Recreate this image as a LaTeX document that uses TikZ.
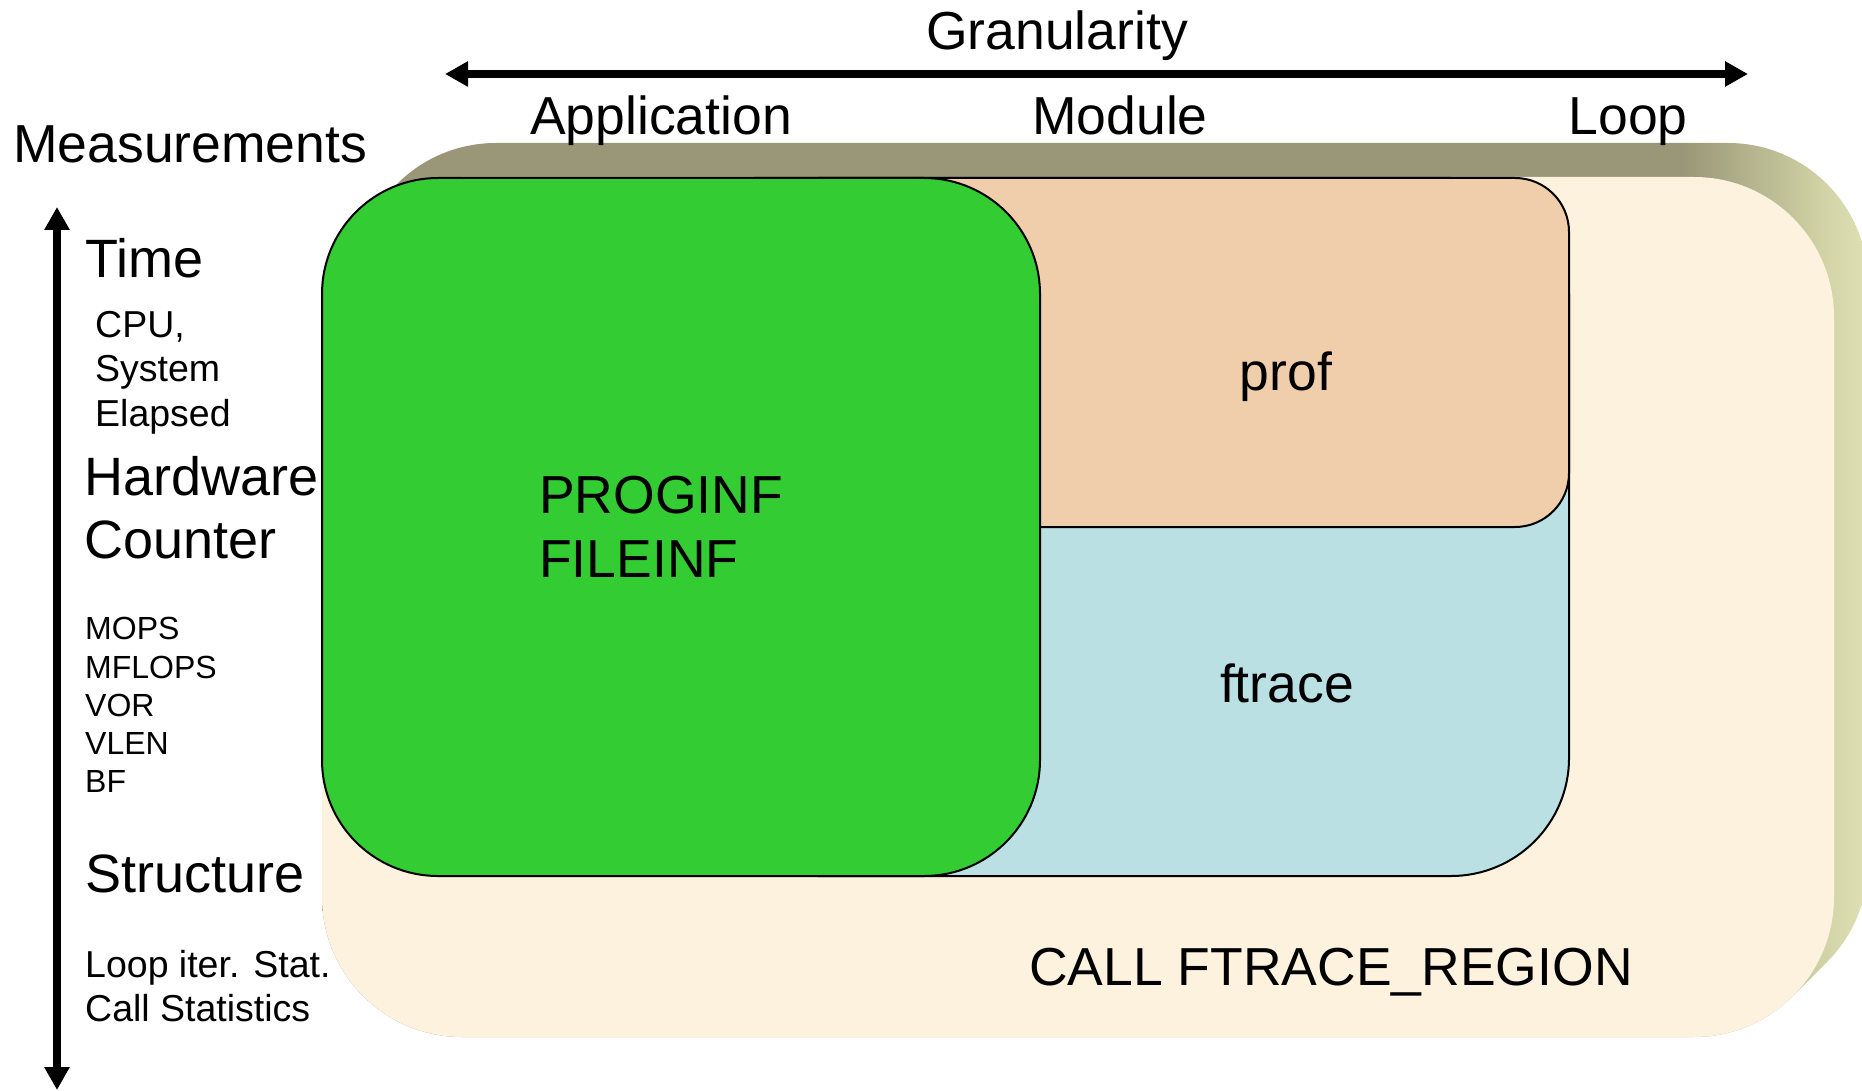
\documentclass[tikz,border=0pt]{standalone}
\usepackage{fontspec}
\setmainfont{Liberation Sans}
\usetikzlibrary{arrows.meta}

\definecolor{bevdark}{HTML}{999777}
\definecolor{bevmid}{HTML}{D2D3A6}
\definecolor{bevlight}{HTML}{DFE0B4}
\definecolor{cream}{HTML}{FDF2DD}
\definecolor{progreen}{HTML}{33CC33}
\definecolor{profpeach}{HTML}{F0CEAC}
\definecolor{ftraceblue}{HTML}{BAE0E3}

% darker on the top face, brighter on the right face of the raised panel
\pgfdeclarehorizontalshading{bevelshade}{100bp}{color(0bp)=(bevdark); color(69bp)=(bevdark); color(73.6bp)=(bevmid); color(75bp)=(bevlight); color(100bp)=(bevlight)}

\tikzset{
  bigtext/.style={font=\fontsize{53.5}{64}\selectfont, inner sep=0pt},
  sidetext/.style={font=\fontsize{54}{64}\selectfont, inner sep=0pt, anchor=base west},
  midtext/.style={font=\fontsize{37.5}{45}\selectfont, inner sep=0pt, anchor=base west},
  smalltext/.style={font=\fontsize{32}{38}\selectfont, inner sep=0pt, anchor=base west},
  axisarrow/.style={line width=8pt, {Triangle[length=23pt,width=24pt]}-{Triangle[length=23pt,width=24pt]}},
  toolbox/.style={draw=black, line width=2pt}
}

\begin{document}
\begin{tikzpicture}[x=1pt,y=-1pt]
\useasboundingbox (0,0) rectangle (1862,1091);
\clip (0,0) rectangle (1862,1091);

% raised panel: extruded side, then the cream face
\shade[shading=bevelshade, rounded corners=140pt]
  foreach \k in {0,...,34} { (322+\k,1037-\k) rectangle (1834+\k,177-\k) };
\fill[cream, rounded corners=140pt] (322,177) rectangle (1834,1037);

% tool regions
\path[toolbox, fill=ftraceblue, rounded corners=118pt] (700,178) rectangle (1569,876);
\path[toolbox, fill=profpeach, rounded corners=54pt] (700,178) rectangle (1569,527);
\path[toolbox, fill=progreen, rounded corners=116pt] (322,178) rectangle (1040,876);

% granularity axis
\node[bigtext, anchor=base] (gran) at (1057,50) {Granularity};
\coordinate (gleft) at (445,74);
\coordinate (gright) at (1748,74);
\draw[axisarrow] (gleft) -- (gright);
\node[bigtext, anchor=base] (app) at (661,135) {Application};
\node[bigtext, anchor=base] (mod) at (1120,135) {Module};
\node[bigtext, anchor=base] (loop) at (1628,135) {Loop};

% measurement axis
\node[bigtext, anchor=base west] (meas) at (13,163) {Measurements};
\coordinate (mtop) at (57,207);
\coordinate (mbot) at (57,1090);
\draw[axisarrow] (mtop) -- (mbot);

\node[sidetext] (time) at (85,277) {Time};
\node[midtext] (cpu) at (95,337) {CPU,};
\node[midtext] (sys) at (95,381) {System};
\node[midtext] (ela) at (95,426) {Elapsed};

\node[sidetext] (hw) at (84,495) {Hardware};
\node[sidetext] (cnt) at (84,558) {Counter};
\node[smalltext] (mops) at (85,639) {MOPS};
\node[smalltext] (mflops) at (85,678) {MFLOPS};
\node[smalltext] (vor) at (85,716) {VOR};
\node[smalltext] (vlen) at (85,754) {VLEN};
\node[smalltext] (bf) at (85,792) {BF};

\node[sidetext] (struct) at (85,892) {Structure};
\node[midtext] (iter) at (85,977) {Loop iter. Stat.};
\node[midtext] (calls) at (85,1021) {Call Statistics};

% region labels
\node[bigtext, anchor=base west] (proginf) at (539,513) {PROGINF};
\node[bigtext, anchor=base west] (fileinf) at (539,577) {FILEINF};
\node[bigtext, anchor=base] (prof) at (1286,390) {prof};
\node[bigtext, anchor=base] (ftrace) at (1287,702) {ftrace};
\node[bigtext, anchor=base] (region) at (1331,985) {CALL FTRACE\_REGION};
\end{tikzpicture}
\end{document}
